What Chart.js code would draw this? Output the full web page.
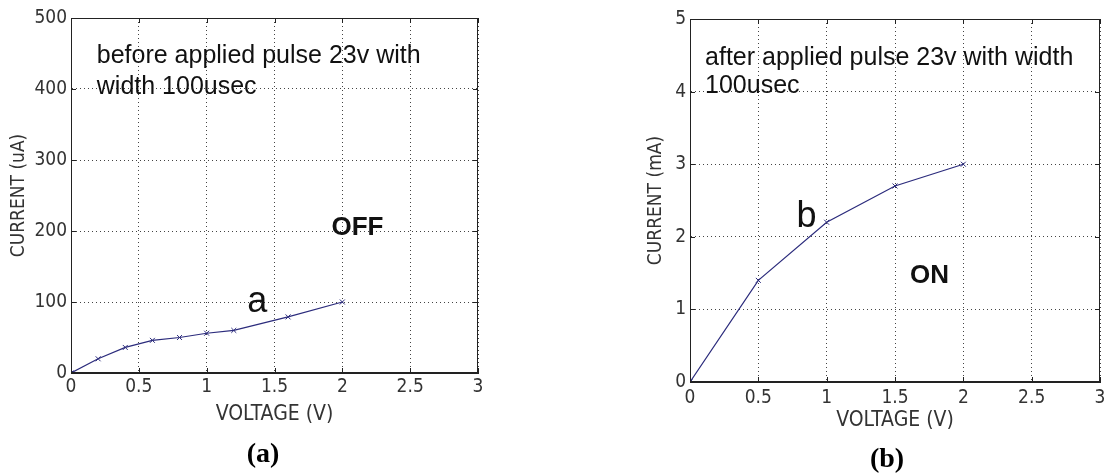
<!DOCTYPE html>
<html>
<head>
<meta charset="utf-8">
<script src="https://cdn.jsdelivr.net/npm/chart.js@4.4.1/dist/chart.umd.min.js"></script>
<style>
  html, body { margin: 0; padding: 0; background: #fff; }
  body { width: 1105px; height: 473px; position: relative; overflow: hidden; }
  canvas { position: absolute; top: 0; }
  #chartA { left: 0; }
  #chartB { left: 620px; }
  .caption {
    position: absolute;
    font: bold 28px "Liberation Serif", "Times New Roman", serif;
    line-height: 1;
    transform: translate(-50%, -50%);
    color: #000;
  }
</style>
</head>
<body>
<canvas id="chartA" width="540" height="473"></canvas>
<canvas id="chartB" width="485" height="473"></canvas>
<div class="caption" style="left:263px; top:453px;">(a)</div>
<div class="caption" style="left:887px; top:458px;">(b)</div>
<script>
// values
const voltsA = [0, 0.2, 0.4, 0.6, 0.8, 1.0, 1.2, 1.6, 2.0];
const currentA = [0, 20, 36, 46, 50, 56, 60, 79, 100];
const voltsB = [0, 0.5, 1.0, 1.5, 2.0];
const currentB = [0, 1.4, 2.2, 2.7, 3.0];

const xTicks = [0, 0.5, 1, 1.5, 2, 2.5, 3];
const yTicksA = [0, 100, 200, 300, 400, 500];
const yTicksB = [0, 1, 2, 3, 4, 5];

const notesA = [
  { text: "before applied pulse 23v with", x: 0.19, y: 437, font: "25px 'Liberation Sans', Arial" },
  { text: "width 100usec", x: 0.19, y: 393, font: "25px 'Liberation Sans', Arial" },
  { text: "OFF", x: 1.92, y: 194, font: "bold 26px 'Liberation Sans', Arial" },
  { text: "a", x: 1.30, y: 86, font: "36px 'Liberation Sans', Arial" },
];
const notesB = [
  { text: "after applied pulse 23v with width", x: 0.11, y: 4.37, font: "25px 'Liberation Sans', Arial" },
  { text: "100usec", x: 0.11, y: 3.98, font: "25px 'Liberation Sans', Arial" },
  { text: "ON", x: 1.61, y: 1.37, font: "bold 26px 'Liberation Sans', Arial" },
  { text: "b", x: 0.78, y: 2.13, font: "36px 'Liberation Sans', Arial" },
];

const LINE = "#2b2b7c";
const narrow = "'Liberation Sans Narrow', 'DejaVu Sans Condensed', Arial, sans-serif";

// matlab style box, inward ticks and free text
const matlabBox = {
  id: "matlabBox",
  afterDraw(chart, args, opts) {
    const { ctx, chartArea: a, scales } = chart;
    ctx.save();
    ctx.strokeStyle = "#222";
    ctx.lineWidth = 1;
    ctx.setLineDash([]);
    ctx.strokeRect(a.left + 0.5, a.top + 0.5, a.right - a.left - 1, a.bottom - a.top - 1);
    ctx.beginPath();
    scales.x.ticks.forEach((t) => {
      const px = Math.round(scales.x.getPixelForValue(t.value)) + 0.5;
      ctx.moveTo(px, a.bottom); ctx.lineTo(px, a.bottom - 5);
      ctx.moveTo(px, a.top); ctx.lineTo(px, a.top + 5);
    });
    scales.y.ticks.forEach((t) => {
      const py = Math.round(scales.y.getPixelForValue(t.value)) + 0.5;
      ctx.moveTo(a.left, py); ctx.lineTo(a.left + 5, py);
      ctx.moveTo(a.right, py); ctx.lineTo(a.right - 5, py);
    });
    ctx.stroke();
    ctx.fillStyle = "#111";
    ctx.textBaseline = "alphabetic";
    ctx.textAlign = "left";
    (opts.items || []).forEach((n) => {
      ctx.font = n.font;
      ctx.fillText(n.text, scales.x.getPixelForValue(n.x), scales.y.getPixelForValue(n.y));
    });
    ctx.restore();
  },
};

function makeChart(id, xs, ys, yTicks, yTitle, notes, lay) {
  return new Chart(document.getElementById(id), {
    type: "scatter",
    data: {
      datasets: [{
        data: xs.map((x, i) => ({ x: x, y: ys[i] })),
        showLine: true,
        borderColor: LINE,
        borderWidth: 1.2,
        pointStyle: "crossRot",
        pointRadius: 3.5,
        pointBorderColor: LINE,
        pointBorderWidth: 1,
      }],
    },
    options: {
      responsive: false,
      animation: false,
      layout: { padding: lay.padding },
      plugins: {
        legend: { display: false },
        tooltip: { enabled: false },
        matlabBox: { items: notes },
      },
      scales: {
        x: {
          type: "linear",
          min: 0, max: 3,
          afterBuildTicks: (s) => { s.ticks = xTicks.map((v) => ({ value: v })); },
          grid: { color: "#444", lineWidth: 1, drawTicks: false },
          border: { display: true, color: "#222", dash: [1, 3] },
          ticks: {
            color: "#333", padding: lay.xPad, maxRotation: 0,
            font: { family: narrow, size: 19 },
            callback: (v) => String(v),
          },
          title: {
            display: true, text: "VOLTAGE (V)", color: "#333",
            font: { family: narrow, size: 21 }, padding: { top: 0, bottom: lay.xTitlePad },
          },
          afterFit: (s) => { s.height = 60; s.paddingLeft = 0; s.paddingRight = 0; },
        },
        y: {
          type: "linear",
          min: yTicks[0], max: yTicks[yTicks.length - 1],
          afterBuildTicks: (s) => { s.ticks = yTicks.map((v) => ({ value: v })); },
          grid: { color: "#444", lineWidth: 1, drawTicks: false },
          border: { display: true, color: "#222", dash: [1, 3] },
          ticks: {
            color: "#333", padding: 4,
            font: { family: narrow, size: 19 },
            callback: (v) => String(v),
          },
          title: {
            display: true, text: yTitle, color: "#333",
            font: { family: narrow, size: 19 }, padding: { top: lay.yTitlePad, bottom: 0 },
          },
          afterFit: (s) => { s.width = lay.yWidth; s.paddingTop = 0; s.paddingBottom = 0; },
        },
      },
    },
    plugins: [matlabBox],
  });
}

makeChart("chartA", voltsA, currentA, yTicksA, "CURRENT (uA)", notesA, {
  padding: { left: 0, top: 18, right: 62, bottom: 40 },
  yWidth: 71, xPad: 3, xTitlePad: 6, yTitlePad: 8,
});
makeChart("chartB", voltsB, currentB, yTicksB, "CURRENT (mA)", notesB, {
  padding: { left: 0, top: 19, right: 4, bottom: 31 },
  yWidth: 70, xPad: 5, xTitlePad: 9, yTitlePad: 25,
});
</script>
</body>
</html>
